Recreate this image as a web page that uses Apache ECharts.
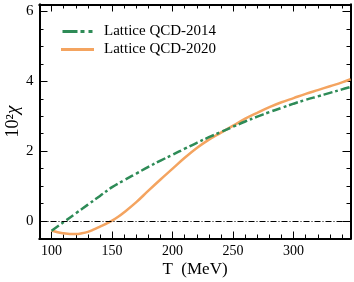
<!DOCTYPE html>
<html><head><meta charset="utf-8">
<script src="https://cdn.jsdelivr.net/npm/echarts@6/dist/echarts.min.js"></script>
<style>html,body{margin:0;padding:0;background:#fff}#c{width:354px;height:282px}</style>
</head><body><div id="c"></div>
<script>
const temps = [100,110,120,130,140,150,160,170,180,190,200,210,220,230,240,250,260,270,280,290,300,310,320,330,340,347];
const lqcd2014 = [-0.28,-0.03,0.22,0.47,0.72,0.97,1.17,1.36,1.55,1.73,1.90,2.07,2.24,2.40,2.55,2.70,2.85,2.99,3.12,3.24,3.36,3.47,3.57,3.67,3.77,3.84];
const temps2020 = [100,105,110,115,120,125,130,135,140,145,150,155,160,170,180,190,200,210,220,230,240,250,260,270,280,290,300,310,320,330,340,347];
const lqcd2020 = [-0.27,-0.32,-0.35,-0.37,-0.37,-0.35,-0.31,-0.24,-0.16,-0.08,0.01,0.12,0.25,0.54,0.87,1.19,1.50,1.81,2.09,2.33,2.53,2.73,2.93,3.10,3.26,3.40,3.52,3.64,3.75,3.86,3.97,4.06];
const xTicks = [100,150,200,250,300];
const xMinorTicks = [100,110,120,130,140,150,160,170,180,190,200,210,220,230,240,250,260,270,280,290,300,310,320,330,340];
const yTicks = [0,2,4,6];
const yMinorTicks = [-0.5,0,0.5,1,1.5,2,2.5,3,3.5,4,4.5,5,5.5,6];
const names = ['Lattice QCD-2014','Lattice QCD-2020'];

const font = 'Liberation Serif';
const xr = {min:90,max:347}, yr = {min:-0.5,max:6.2};
const gridRect = {left:39.5,right:3.5,top:4.5,bottom:43.5,outerBoundsMode:'none',containLabel:false};
function xa(g, pos, major, labels){
  return {type:'value', gridIndex:g, position:pos, min:xr.min, max:xr.max,
    axisLine:{show:true,onZero:false,lineStyle:{color:'#000',width:2}},
    axisTick:{show:true,inside:true,length: major?7:4,customValues: major?xTicks:xMinorTicks,lineStyle:{color:'#000',width:1}},
    axisLabel:{show:labels,customValues:xTicks,margin:6,color:'#000',fontFamily:font,fontSize:14},
    splitLine:{show:false},
    name: labels?'T  (MeV)':'', nameLocation:'middle', nameGap:23, nameMoveOverlap:false,
    nameTextStyle:{fontFamily:font,fontSize:17,color:'#000'}};
}
function ya(g, pos, major, labels){
  return {type:'value', gridIndex:g, position:pos, min:yr.min, max:yr.max,
    axisLine:{show:true,onZero:false,lineStyle:{color:'#000',width:2}},
    axisTick:{show:true,inside:true,length: major?8:4,customValues: major?yTicks:yMinorTicks,lineStyle:{color:'#000',width:1}},
    axisLabel:{show:labels,customValues:yTicks,margin:6,color:'#000',fontFamily:font,fontSize:15},
    splitLine:{show:false},
    name: labels?'10²{i|χ}':'', nameLocation:'middle', nameGap:17, nameRotate:90, nameMoveOverlap:false,
    nameTextStyle:{fontFamily:font,fontSize:18,color:'#000',rich:{i:{fontFamily:font,fontSize:19,fontStyle:'italic',color:'#000'}}}};
}
const greenIcon = 'path://M0 0H15V3H0Z M18 0H22V3H18Z M26 0H30V3H26Z';
const orangeIcon = 'path://M0 0H33V3H0Z';
const chart = echarts.init(document.getElementById('c'),null,{renderer:'canvas'});
chart.setOption({
  animation:false,
  grid:[0,1].map(()=>Object.assign({},gridRect)),
  xAxis:[xa(0,'bottom',true,true),xa(0,'top',true,false),xa(1,'bottom',false,false),xa(1,'top',false,false)],
  yAxis:[ya(0,'left',true,true),ya(0,'right',true,false),ya(1,'left',false,false),ya(1,'right',false,false)],
  legend:{orient:'vertical',left:61,top:24,padding:0,itemWidth:33,itemHeight:3,itemGap:3,
    textStyle:{fontFamily:font,fontSize:15,color:'#000',padding:[0,0,0,5]},
    data:[{name:names[0],icon:greenIcon},{name:names[1],icon:orangeIcon}]},
  series:[
    {name:names[0],type:'line',smooth:0.4,symbol:'none',xAxisIndex:0,yAxisIndex:0,
      data:temps.map((t,i)=>[t,lqcd2014[i]]),
      lineStyle:{color:'#2e8b57',width:2.5,type:[9,3,3,3]},itemStyle:{color:'#2e8b57'},z:3,
      markLine:{silent:true,symbol:'none',label:{show:false},
        lineStyle:{color:'#000',width:1,type:[6,2,1,2]},data:[{yAxis:0}]}},
    {name:names[1],type:'line',smooth:0.4,symbol:'none',xAxisIndex:0,yAxisIndex:0,
      data:temps2020.map((t,i)=>[t,lqcd2020[i]]),
      lineStyle:{color:'#f4a460',width:2.5},itemStyle:{color:'#f4a460'},z:2}
  ]
});
</script></body></html>
